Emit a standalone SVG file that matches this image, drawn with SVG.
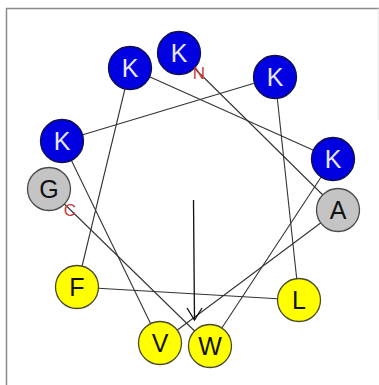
<svg xmlns="http://www.w3.org/2000/svg" width="379" height="385" viewBox="0 0 379 385">
  <defs>
    <style>
      .frame { fill: none; stroke: #8a8a8a; stroke-width: 1.5; }
      .bond { stroke: #333333; stroke-width: 1.1; fill: none; }
      .res { stroke-width: 1.3; }
      .pos { fill: #0000e0; stroke: #10104a; }
      .gly { fill: #c4c4c4; stroke: #4a4a4a; }
      .hyd { fill: #ffff00; stroke: #4a4a30; }
      .aa { font-family: "Liberation Sans", Arial, sans-serif; font-size: 25px; text-anchor: middle; dominant-baseline: central; }
      .dark { fill: #111111; }
      .light { fill: #e8e8ff; }
      .term { font-family: "Liberation Sans", Arial, sans-serif; font-size: 17px; fill: #c83a3a; text-anchor: middle; dominant-baseline: central; }
      .moment { stroke: #111111; stroke-width: 1.3; fill: none; }
    </style>
  </defs>

  <rect width="379" height="385" fill="#ffffff"/>
  <!-- plot frame -->
  <path class="frame" d="M6.5,385 V8.5 H379"/>
  <line x1="378" y1="8.5" x2="378" y2="120" stroke="#e6e6e6" stroke-width="1"/>

  <!-- backbone connecting consecutive residues -->
  <g id="connectors">
    <line class="bond" x1="179" y1="53" x2="338" y2="210"/>
    <line class="bond" x1="338" y1="210" x2="160" y2="343"/>
    <line class="bond" x1="160" y1="343" x2="62" y2="141"/>
    <line class="bond" x1="62" y1="141" x2="275" y2="77"/>
    <line class="bond" x1="275" y1="77" x2="299" y2="300"/>
    <line class="bond" x1="299" y1="300" x2="77" y2="287"/>
    <line class="bond" x1="77" y1="287" x2="130" y2="68"/>
    <line class="bond" x1="130" y1="68" x2="333" y2="159"/>
    <line class="bond" x1="333" y1="159" x2="210" y2="346"/>
    <line class="bond" x1="210" y1="346" x2="49" y2="189"/>
  </g>

  <!-- residues -->
  <g id="res1"><circle class="res pos" cx="179" cy="53" r="21.5"/><text class="aa light" x="179" y="53">K</text></g>
  <g id="res2"><circle class="res gly" cx="338" cy="210" r="21.5"/><text class="aa dark" x="338" y="210">A</text></g>
  <g id="res3"><circle class="res hyd" cx="160" cy="343" r="21.5"/><text class="aa dark" x="160" y="343">V</text></g>
  <g id="res4"><circle class="res pos" cx="62" cy="141" r="21.5"/><text class="aa light" x="62" y="141">K</text></g>
  <g id="res5"><circle class="res pos" cx="275" cy="77" r="21.5"/><text class="aa light" x="275" y="77">K</text></g>
  <g id="res6"><circle class="res hyd" cx="299" cy="300" r="21.5"/><text class="aa dark" x="299" y="300">L</text></g>
  <g id="res7"><circle class="res hyd" cx="77" cy="287" r="21.5"/><text class="aa dark" x="77" y="287">F</text></g>
  <g id="res8"><circle class="res pos" cx="130" cy="68" r="21.5"/><text class="aa light" x="130" y="68">K</text></g>
  <g id="res9"><circle class="res pos" cx="333" cy="159" r="21.5"/><text class="aa light" x="333" y="159">K</text></g>
  <g id="res10"><circle class="res hyd" cx="210" cy="346" r="21.5"/><text class="aa dark" x="210" y="346">W</text></g>
  <g id="res11"><circle class="res gly" cx="49" cy="189" r="21.5"/><text class="aa dark" x="49" y="189">G</text></g>

  <!-- terminus labels -->
  <g id="terminus-n"><text class="term" x="199" y="73">N</text></g>
  <g id="terminus-c"><text class="term" x="70" y="210">C</text></g>

  <!-- hydrophobic moment vector -->
  <g id="moment">
    <line class="moment" x1="193.5" y1="200" x2="194.5" y2="320"/>
    <polyline class="moment" points="187,308 194.5,320 202,308"/>
  </g>
</svg>
